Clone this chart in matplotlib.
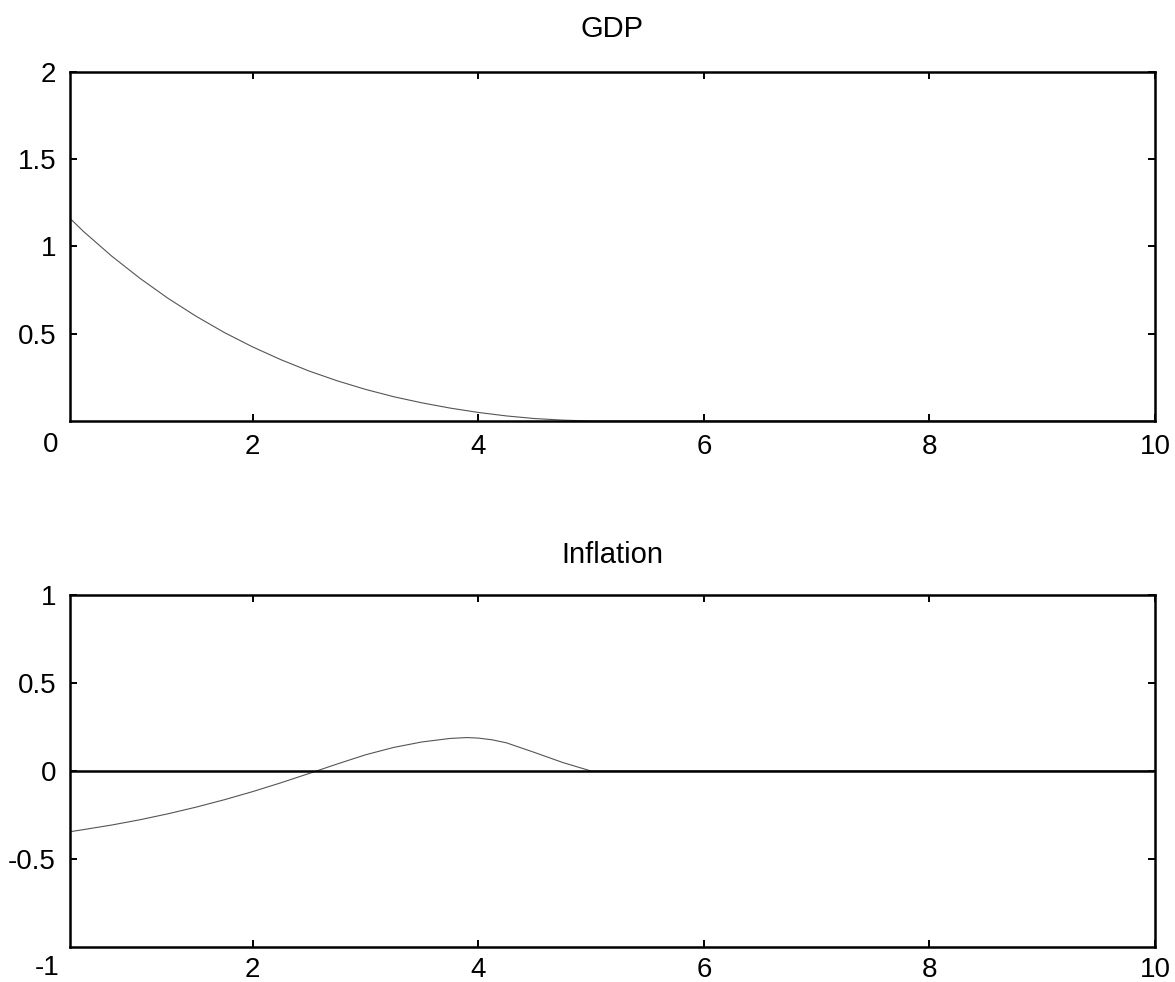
import matplotlib
matplotlib.use("Agg")
import matplotlib.pyplot as plt

plt.rcParams['font.family'] = ['Liberation Sans', 'DejaVu Sans']

# ---- data ----
periods = [0.38, 0.5, 0.75, 1.0, 1.25, 1.5, 1.75, 2.0, 2.25, 2.5, 2.75, 3.0,
           3.25, 3.5, 3.75, 3.9, 4.0, 4.125, 4.25, 4.5, 4.75, 5.0, 6.0, 7.0, 8.0, 9.0, 10.0]
gdp = [1.16, 1.085, 0.944, 0.817, 0.702, 0.599, 0.506, 0.424, 0.351, 0.286, 0.230, 0.181,
       0.139, 0.104, 0.074, 0.059, 0.049, 0.039, 0.029, 0.014, 0.005, 0.0,
       0.0, 0.0, 0.0, 0.0, 0.0]
inflation = [-0.345, -0.333, -0.307, -0.277, -0.243, -0.205, -0.163, -0.117, -0.067, -0.014,
             0.040, 0.092, 0.134, 0.165, 0.185, 0.190, 0.187, 0.177, 0.160, 0.105, 0.048, 0.0,
             0.0, 0.0, 0.0, 0.0, 0.0]

titles = ["GDP", "Inflation"]
x_ticks = [2, 4, 6, 8, 10]
x_lim = (0.38, 10)
gdp_yticks = [0.5, 1, 1.5, 2]
gdp_ylim = (0, 2)
gdp_corner_label = "0"
inf_yticks = [-0.5, 0, 0.5, 1]
inf_ylim = (-1, 1)
inf_corner_label = "-1"

W, H = 1175, 982
fig = plt.figure(figsize=(W / 100, H / 100), dpi=100)

left = 70 / W
width = (1155 - 70) / W
ax1 = fig.add_axes([left, 1 - 421 / H, width, (421 - 71.7) / H])
ax2 = fig.add_axes([left, 1 - 947 / H, width, (947 - 595) / H])

FS = 20
FT = 21
line_color = '#555555'

def style(ax, yticks, ylim, title, corner, xpad, corner_off, tpad):
    ax.set_xlim(*x_lim)
    ax.set_ylim(*ylim)
    ax.set_xticks(x_ticks)
    ax.set_xticklabels([str(t) for t in x_ticks])
    ax.set_yticks(yticks)
    ax.set_yticklabels([('%g' % t) for t in yticks])
    for s in ax.spines.values():
        s.set_linewidth(1.8)
        s.set_color('black')
    ax.tick_params(axis='both', direction='in', length=5, width=1.4,
                   top=True, right=True, labelsize=FS, colors='black')
    ax.tick_params(axis='x', pad=xpad)
    ax.tick_params(axis='y', pad=10)
    ax.set_title(title, fontsize=FT, pad=tpad)
    ax.annotate(corner, xy=(0, 0), xycoords='axes fraction',
                xytext=corner_off, textcoords='offset points',
                ha='right', va='center', fontsize=FS)

ax1.plot(periods, gdp, color=line_color, lw=0.8)
style(ax1, gdp_yticks, gdp_ylim, titles[0], gdp_corner_label, 9.5, (-8.5, -17.3), 25)

ax2.axhline(0, color='black', lw=1.8, zorder=3)
ax2.plot(periods, inflation, color=line_color, lw=0.8, zorder=2)
style(ax2, inf_yticks, inf_ylim, titles[1], inf_corner_label, 7.5, (-7.5, -15.2), 23)

fig.savefig("out.png", dpi=100)
